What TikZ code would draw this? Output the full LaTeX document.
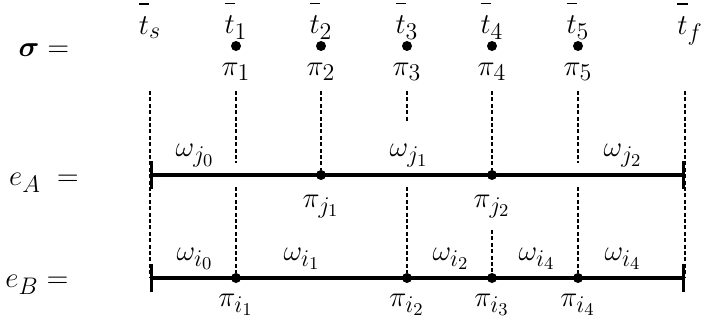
\documentclass[tikz,border=0pt]{standalone}
\usepackage{amsmath}
\usepackage{tikz}
\usetikzlibrary{arrows.meta,positioning}

\DeclareMathSizes{14.4}{14.4}{11.5}{9}
\newcommand{\tlab}[1]{$\overline{\rule{0pt}{13pt}t}_{#1}$}

\begin{document}
\begin{tikzpicture}[
    x=0.5pt, y=-0.5pt,
    font=\Large,
    dot/.style={circle, fill=black, inner sep=0pt, minimum size=5pt},
    vline/.style={line width=1pt, dash pattern=on 2pt off 1.2pt},
    eline/.style={line width=2pt, {Bar[width=14pt,line width=1.5pt]}-{Bar[width=14pt,line width=1.5pt]}},
    lab/.style={inner sep=1pt}
]
\useasboundingbox (0,0) rectangle (707,332);

\node[lab] (sig) at (44,50) {$\boldsymbol{\sigma} =$};
\node[lab] (ea) at (44,183) {$e_A\;=$};
\node[lab] (eb) at (37,285) {$e_B=$};

\coordinate (ts) at (150,41);
\coordinate (tf) at (690,41);
\node[lab, above=3.5pt of ts, anchor=base] (lts) {\tlab{s}};
\node[lab, above=3.5pt of tf, anchor=base] (ltf) {\tlab{f}};
\foreach \i/\x in {1/236,2/321,3/407,4/492,5/578} {
    \node[dot] (s\i) at (\x,46) {};
    \node[lab, above=3.5pt of s\i, anchor=base] (lt\i) {\tlab{\i}};
    \node[lab, below=4.5pt of s\i] (lp\i) {$\pi_{\i}$};
}

\foreach \n/\x in {s/150,1/236,2/321,3/407,4/492,5/578,f/685}
    \coordinate (v\n) at (\x,91);
\coordinate (as) at (150,175);
\coordinate (af) at (685,175);
\coordinate (bs) at (150,278);
\coordinate (bf) at (685,278);
\coordinate (g1) at (236,163);
\coordinate (h1) at (236,187);
\coordinate (g3) at (407,122);
\coordinate (h3) at (407,187);
\coordinate (h4) at (492,230);
\coordinate (g5) at (578,163);
\coordinate (h5) at (578,187);

\draw[eline] (as) -- (af);
\draw[eline] (bs) -- (bf);
\node[dot] (a2) at (321,175) {};
\node[dot] (a4) at (492,175) {};
\node[dot] (b1) at (236,278) {};
\node[dot] (b3) at (407,278) {};
\node[dot] (b4) at (492,278) {};
\node[dot] (b5) at (578,278) {};

\draw[vline] (vs) -- (bs);
\draw[vline] (v1) -- (g1) (h1) -- (b1);
\draw[vline] (v2) -- (a2);
\draw[vline] (v3) -- (g3) (h3) -- (b3);
\draw[vline] (v4) -- (a4) (h4) -- (b4);
\draw[vline] (v5) -- (g5) (h5) -- (b5);
\draw[vline] (vf) -- (bf);

\node[lab] (wj0) at (195,156) {$\omega_{j_0}$};
\node[lab] (wj1) at (409,156) {$\omega_{j_1}$};
\node[lab] (wj2) at (623,156) {$\omega_{j_2}$};
\node[lab, below=6pt of a2] (pj1) {$\pi_{j_1}$};
\node[lab, below=6pt of a4] (pj2) {$\pi_{j_2}$};

\node[lab] (wi0) at (195,259) {$\omega_{i_0}$};
\node[lab] (wi1) at (302,259) {$\omega_{i_1}$};
\node[lab] (wi2) at (451,259) {$\omega_{i_2}$};
\node[lab] (wi4) at (537,259) {$\omega_{i_4}$};
\node[lab] (wi5) at (623,259) {$\omega_{i_4}$};
\node[lab, below=4pt of b1] (pi1) {$\pi_{i_1}$};
\node[lab, below=4pt of b3] (pi2) {$\pi_{i_2}$};
\node[lab, below=4pt of b4] (pi3) {$\pi_{i_3}$};
\node[lab, below=4pt of b5] (pi4) {$\pi_{i_4}$};
\end{tikzpicture}
\end{document}
